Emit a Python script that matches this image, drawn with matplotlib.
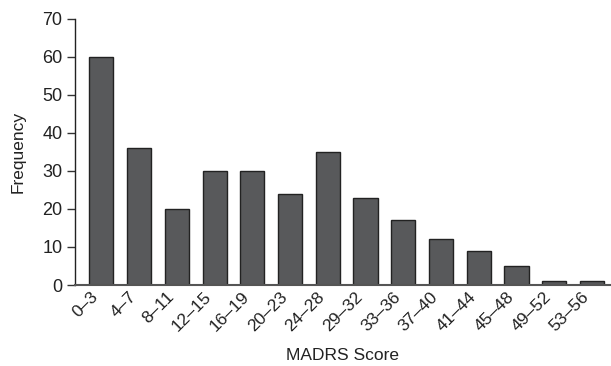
#!/usr/bin/env python3
"""Bar chart of MADRS score frequency distribution, saved to out.png."""

import matplotlib

matplotlib.use("Agg")
import matplotlib.pyplot as plt
import numpy as np

SCORE_BINS = ["0–3", "4–7", "8–11", "12–15", "16–19", "20–23", "24–28",
              "29–32", "33–36", "37–40", "41–44", "45–48", "49–52", "53–56"]
FREQUENCY = [60, 36, 20, 30, 30, 24, 35, 23, 17, 12, 9, 5, 1, 1]
Y_TICKS = [0, 10, 20, 30, 40, 50, 60, 70]


def main() -> int:
    plt.rcParams["font.family"] = ["Liberation Sans", "DejaVu Sans"]

    fig = plt.figure(figsize=(6.11, 3.66), dpi=100)
    ax = fig.add_axes([0.1227, 0.2213, 0.877, 0.727])

    x = np.arange(len(SCORE_BINS))
    ax.bar(x, FREQUENCY, width=0.64, color="#58595b",
           edgecolor="#222222", linewidth=1.0)

    ax.set_xlim(-0.7, 13.5)
    ax.set_ylim(0, 70)
    ax.set_yticks(Y_TICKS)
    ax.set_xticks(x)
    ax.set_xticklabels(SCORE_BINS, rotation=45, ha="right")

    for side in ("top", "right"):
        ax.spines[side].set_visible(False)
    ax.spines["left"].set_color("#222222")
    ax.spines["left"].set_linewidth(1.0)
    ax.spines["bottom"].set_color("#555555")
    ax.spines["bottom"].set_linewidth(1.5)

    ax.tick_params(axis="x", length=0, pad=3, labelsize=12.5, colors="#222222")
    ax.tick_params(axis="y", length=6, width=1.0, pad=3, labelsize=13,
                   colors="#333333", labelcolor="#222222")

    ax.set_xlabel("MADRS Score", fontsize=12.5, color="#222222", labelpad=10)
    ax.set_ylabel("Frequency", fontsize=12.5, color="#222222")
    ax.yaxis.set_label_coords(-0.092, 0.5)

    fig.savefig("out.png", dpi=100)
    plt.close(fig)
    return 0


if __name__ == "__main__":
    raise SystemExit(main())
